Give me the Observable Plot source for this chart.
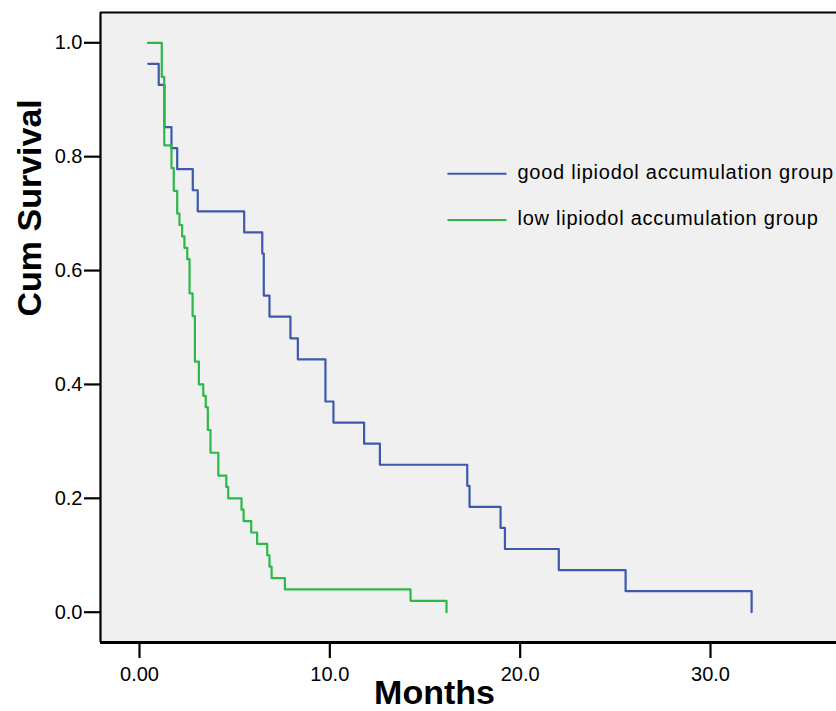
<!DOCTYPE html>
<html>
<head>
<meta charset="utf-8">
<script src="https://cdn.jsdelivr.net/npm/d3@7"></script>
<script src="https://cdn.jsdelivr.net/npm/@observablehq/plot@0.6"></script>
<style>
  html, body { margin: 0; padding: 0; background: white; }
  #chart svg { display: block; }
</style>
</head>
<body>
<div id="chart"></div>
<script>
// ---- Data ----
const groups = ["good lipiodol accumulation group", "low lipiodol accumulation group"];
const groupColors = ["#3E58AC", "#2EB848"];

const goodTimes = [0.46, 1.01, 1.31, 1.68, 1.98, 2.80, 3.06, 5.50, 6.45, 6.53, 6.83, 7.93, 8.32, 9.77, 10.19, 11.80, 12.63, 17.22, 17.34, 18.97, 19.20, 22.03, 25.54, 32.16];
const goodSurv  = [0.963, 0.926, 0.852, 0.815, 0.778, 0.741, 0.704, 0.667, 0.630, 0.556, 0.519, 0.481, 0.444, 0.370, 0.333, 0.296, 0.259, 0.222, 0.185, 0.148, 0.111, 0.074, 0.037, 0];

const lowTimes = [0.44, 1.17, 1.30, 1.68, 1.80, 1.98, 2.10, 2.24, 2.36, 2.51, 2.63, 2.79, 2.91, 3.12, 3.35, 3.48, 3.59, 3.73, 4.14, 4.56, 4.66, 5.36, 5.47, 5.87, 6.18, 6.71, 6.83, 6.94, 7.64, 14.24, 16.13];
const lowSurv  = [1.0, 0.94, 0.82, 0.78, 0.74, 0.70, 0.68, 0.66, 0.64, 0.62, 0.56, 0.52, 0.44, 0.40, 0.38, 0.36, 0.32, 0.28, 0.24, 0.22, 0.20, 0.18, 0.16, 0.14, 0.12, 0.10, 0.08, 0.06, 0.04, 0.02, 0];

const xTicks = [0, 10, 20, 30];
const yTicks = [0, 0.2, 0.4, 0.6, 0.8, 1.0];
const xTickLabels = ["0.00", "10.0", "20.0", "30.0"];

const xTitle = "Months";
const yTitle = "Cum Survival";

// ---- Layout ----
const xDomain = [-2.049, 36.62];
const yDomain = [-0.0532, 1.0532];
// legend placement (in scale units)
const legendX = [16.18, 19.28];
const legendTextX = 19.86;
const legendY = [0.770, 0.689];

const good = goodTimes.map((t, i) => ({t, s: goodSurv[i]}));
const low = lowTimes.map((t, i) => ({t, s: lowSurv[i]}));
const legendRows = groups.map((g, i) => ({g, y: legendY[i], color: groupColors[i]}));

const font = "'Liberation Sans', Arial, Helvetica, sans-serif";

const chart = Plot.plot({
  width: 836,
  height: 711,
  marginLeft: 100,
  marginRight: 0,
  marginTop: 12,
  marginBottom: 69,
  style: {background: "white", fontFamily: font, color: "black"},
  x: {domain: xDomain, axis: null},
  y: {domain: yDomain, axis: null},
  marks: [
    Plot.frame({fill: "#f0f0f0", stroke: null}),
    Plot.ruleX([xDomain[0]], {stroke: "black", strokeWidth: 2.2}),
    Plot.ruleY([yDomain[1]], {stroke: "black", strokeWidth: 2}),
    Plot.ruleY([yDomain[0]], {stroke: "black", strokeWidth: 3}),
    Plot.axisY(yTicks, {
      anchor: "left", tickSize: 16, tickPadding: 2, fontSize: 20,
      strokeWidth: 2.2, tickFormat: d3.format(".1f"), label: null
    }),
    Plot.axisX(xTicks, {
      anchor: "bottom", tickSize: 16, tickPadding: 8, fontSize: 20,
      strokeWidth: 2.2, tickFormat: (d, i) => xTickLabels[xTicks.indexOf(d)], label: null
    }),
    Plot.line(good, {x: "t", y: "s", curve: "step-after", stroke: groupColors[0], strokeWidth: 2.2}),
    Plot.line(low, {x: "t", y: "s", curve: "step-after", stroke: groupColors[1], strokeWidth: 2.2}),
    // legend
    Plot.link(legendRows, {x1: legendX[0], x2: legendX[1], y1: "y", y2: "y", stroke: "color", strokeWidth: 2}),
    Plot.text(legendRows, {x: legendTextX, y: "y", text: "g", textAnchor: "start", lineAnchor: "middle",
      fontSize: 20, fill: "black", dy: -1}),
    // axis titles
    Plot.text([xTitle], {frameAnchor: "bottom", text: d => d, dx: -34, dy: 61, lineAnchor: "bottom",
      fontSize: 34, fontWeight: "bold", fill: "black"}),
    Plot.text([yTitle], {frameAnchor: "left", text: d => d, dx: -60, dy: -11, rotate: -90, lineAnchor: "bottom",
      fontSize: 34, fontWeight: "bold", fill: "black"})
  ]
});

d3.select(chart).selectAll("text").filter(function() {
  return groups.includes(this.textContent);
}).attr("letter-spacing", "0.75px");

document.getElementById("chart").appendChild(chart);
</script>
</body>
</html>
